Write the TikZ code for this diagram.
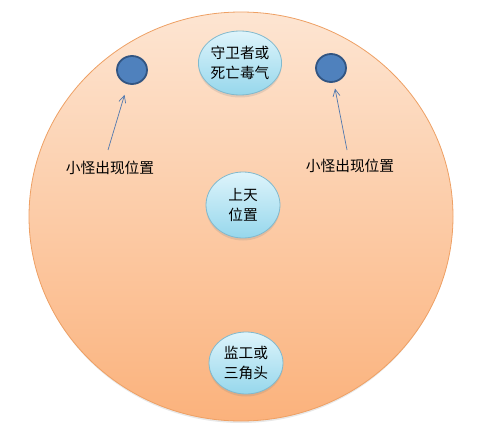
\documentclass[tikz,border=0pt]{standalone}
\usepackage{fontspec}
\newfontfamily\cjk{Noto Sans CJK SC}
\usetikzlibrary{arrows.meta,shadows,shapes.geometric}

\definecolor{peachtop}{RGB}{253,229,210}
\definecolor{peachbottom}{RGB}{251,178,124}
\definecolor{peachline}{RGB}{238,160,100}
\definecolor{dotfill}{RGB}{79,129,189}
\definecolor{dotline}{RGB}{50,85,130}
\definecolor{bubbletop}{RGB}{222,244,251}
\definecolor{bubblebottom}{RGB}{150,215,236}
\definecolor{bubbleline}{RGB}{130,185,205}
\definecolor{pointercolor}{RGB}{80,120,175}

\tikzset{
  spawndot/.style={ellipse, minimum width=30pt, minimum height=28pt, inner sep=0pt,
    fill=dotfill, draw=dotline, line width=1.8pt},
  bubble/.style={ellipse, minimum width=72pt, minimum height=64pt, inner sep=0pt,
    top color=bubbletop, bottom color=bubblebottom, draw=bubbleline, line width=0.8pt,
    drop shadow={shadow xshift=0pt, shadow yshift=-2.5pt, opacity=0.2},
    align=center, font=\cjk\fontsize{14.7}{19.5}\selectfont},
  spawnlabel/.style={font=\cjk\fontsize{14.7}{17}\selectfont, inner sep=0pt},
  pointer/.style={draw=pointercolor, line width=0.7pt, -{Straight Barb[length=7pt, width=7pt]}}
}

\begin{document}
\begin{tikzpicture}[x=1pt, y=-1pt]

  \useasboundingbox (0,0) rectangle (484,441);

  % arena
  \fill[black!15, opacity=0.6] (241,218.5) ellipse [x radius=211, y radius=204.5];
  \shade[top color=peachtop, bottom color=peachbottom, draw=peachline, line width=0.8pt]
    (241,216.5) ellipse [x radius=212, y radius=204.5];

  % spawn points
  \node[spawndot] (dotL) at (132,70) {};
  \node[spawndot] (dotR) at (331,68) {};

  \node[spawnlabel] (labelL) at (110,168) {小怪出现位置};
  \node[spawnlabel] (labelR) at (350,166) {小怪出现位置};

  \coordinate (tailL) at (108,150);
  \coordinate (tailR) at (347,150);

  \draw[pointer, shorten >=26pt] (tailL) -- (dotL.center);
  \draw[pointer, shorten >=21pt] (tailR) -- (dotR.center);

  % positions
  \node[bubble, minimum width=68pt] (guard) at (240,63) {守卫者或\\死亡毒气};
  \node[bubble, minimum width=74pt, minimum height=66pt] (sky) at (243,205) {上天\\位置};
  \node[bubble, minimum width=74pt, minimum height=62pt] (overseer) at (246,363) {监工或\\三角头};

\end{tikzpicture}
\end{document}
